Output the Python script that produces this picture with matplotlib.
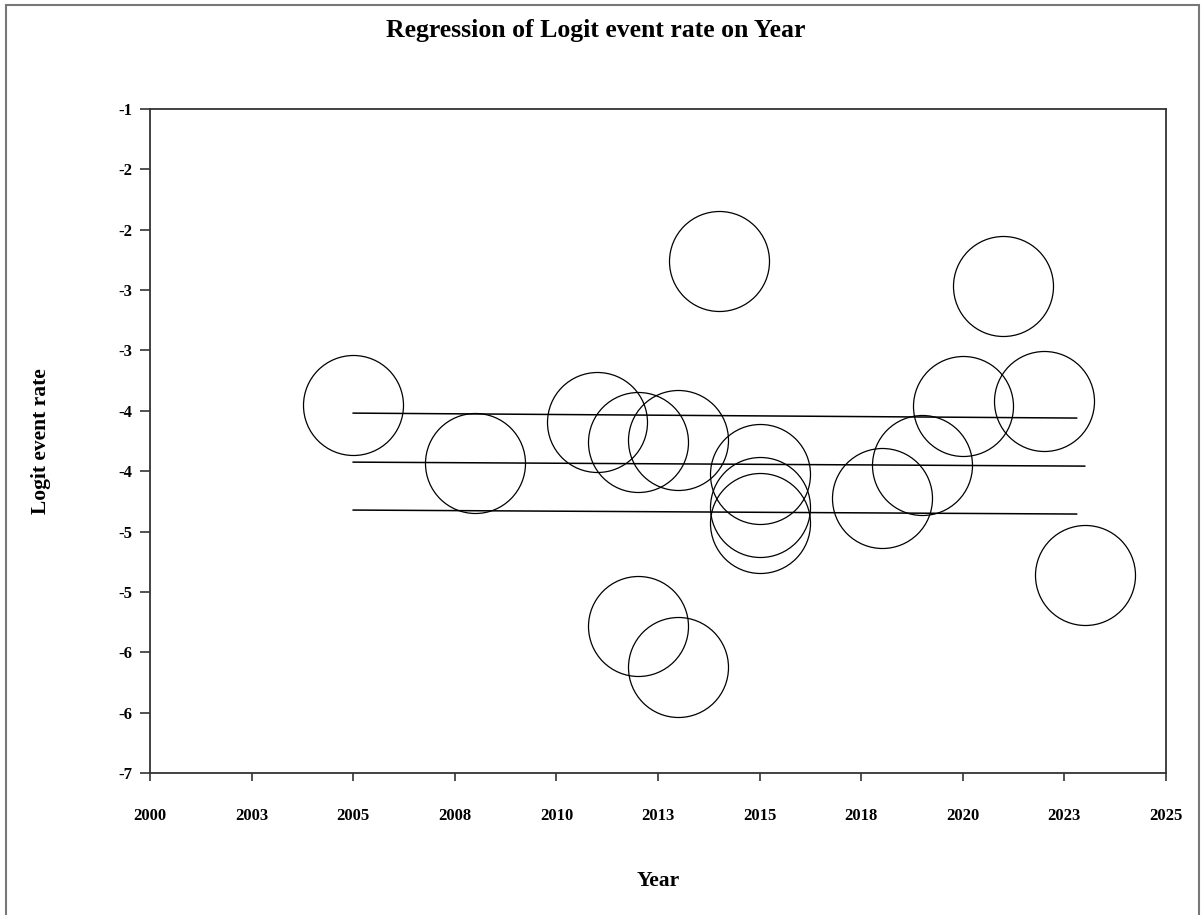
import numpy as np
import matplotlib
matplotlib.use("Agg")
import matplotlib.pyplot as plt
from matplotlib.patches import Rectangle

# study points (year, logit event rate)
years = [2005.0, 2008.0, 2011.0, 2012.0, 2013.0, 2014.0, 2015.0, 2015.0, 2015.0,
         2018.0, 2019.0, 2020.0, 2021.0, 2022.0, 2023.0, 2012.0, 2013.0]
logit = [-3.45, -3.93, -3.59, -3.76, -3.74, -2.26, -4.02, -4.30, -4.43,
         -4.22, -3.95, -3.46, -2.47, -3.42, -4.86, -5.28, -5.62]

# regression line and confidence limits (start/end)
fit_x = [2005.0, 2023.0]
fit_y = [-3.925, -3.958]
ci_x = [2005.0, 2022.8]
ci_upper = [-3.519, -3.560]
ci_lower = [-4.322, -4.355]

x_ticks = [2000, 2002.5, 2005, 2007.5, 2010, 2012.5, 2015, 2017.5, 2020, 2022.5, 2025]
x_labels = ["2000", "2003", "2005", "2008", "2010", "2013", "2015", "2018", "2020", "2023", "2025"]
y_ticks = [-1, -1.5, -2, -2.5, -3, -3.5, -4, -4.5, -5, -5.5, -6, -6.5]
y_labels = ["-1", "-2", "-2", "-3", "-3", "-4", "-4", "-5", "-5", "-6", "-6", "-7"]

plt.rcParams['font.family'] = ['Liberation Serif', 'DejaVu Serif']
plt.rcParams['font.weight'] = 'bold'

fig = plt.figure(figsize=(12.02, 9.15), dpi=100)
ax = fig.add_axes([150 / 1202, 1 - 773 / 915, (1166 - 150) / 1202, (773 - 109) / 915])

ax.plot(years, logit, linestyle='none', marker='o', markersize=72,
        markerfacecolor='none', markeredgecolor='black', markeredgewidth=0.9)
ax.plot(fit_x, fit_y, color='black', lw=1.1)
ax.plot(ci_x, ci_upper, color='black', lw=1.1)
ax.plot(ci_x, ci_lower, color='black', lw=1.1)

ax.set_xlim(2000, 2025)
ax.set_ylim(-6.5, -1)
ax.set_xticks(x_ticks)
ax.set_xticklabels(x_labels)
ax.set_yticks(y_ticks)
ax.set_yticklabels(y_labels)
ax.tick_params(axis='x', direction='out', length=6, width=1.2, pad=19,
               labelsize=12, color='#333333')
ax.tick_params(axis='y', direction='out', length=7, width=1.2, pad=6,
               labelsize=12, color='#333333')
for s in ax.spines.values():
    s.set_color('#333333')
    s.set_linewidth(1.3)

fig.text(596 / 1202, 1 - 30 / 915, "Regression of Logit event rate on Year",
         fontsize=18.5, fontweight='bold', ha='center', va='center')
ax.set_xlabel("Year", fontsize=15.5, fontweight='bold', labelpad=34)
ax.set_ylabel("Logit event rate", fontsize=15.5, fontweight='bold', labelpad=48)

# outer frame
fig.patches.append(Rectangle((6 / 1202, -0.01), 1193 / 1202, 1 - 5 / 915 + 0.01,
                             transform=fig.transFigure, fill=False,
                             edgecolor='#777777', lw=1.5))

fig.savefig("out.png", dpi=100)
